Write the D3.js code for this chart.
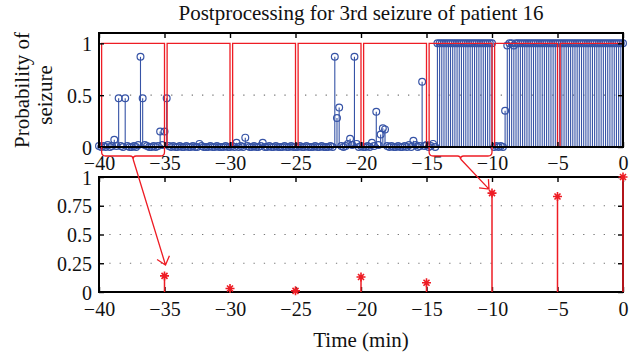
<!DOCTYPE html>
<html><head><meta charset="utf-8">
<script src="https://cdn.jsdelivr.net/npm/d3@7"></script>
<style>body{margin:0;background:#fff}svg{display:block}</style>
</head><body>
<svg id="c" width="643" height="358"></svg>
<script>
// ---- data ----
const titleText = "Postprocessing for 3rd seizure of patient 16";
const xLabel = "Time (min)";
const yLabelLines = ["Probability of", "seizure"];
const sampleStepMin = 1/6; // one output every 10 s
const sampleProb = [
0.01,0,0.01,0,0.02,0,0.01,0.07,0.01,0.47,
0.01,0,0.47,0.01,0,0,0.01,0,0.02,0.87,
0.47,0.02,0.01,0,0,0.01,0,0.01,0.15,0.02,
0.15,0.47,0.01,0,0.01,0,0,0.01,0,0,
0.01,0,0,0.01,0,0,0.03,0.01,0,0,
0,0.01,0,0,0.01,0,0,0,0.01,0,
0,0.01,0,0.04,0,0.01,0,0.09,0.01,0,
0,0.01,0,0,0.01,0.04,0,0,0.01,0,
0,0.01,0,0,0,0.01,0,0,0.01,0,
0,0,0.01,0,0,0.01,0,0,0,0.01,
0,0,0.01,0,0,0,0.01,0,0.87,0.28,
0.38,0.01,0,0.01,0.03,0.08,0.02,0.87,0.03,0,
0.01,0,0,0.01,0,0.04,0.01,0.34,0.02,0.12,
0.18,0.17,0.01,0,0.01,0,0,0.01,0,0,
0.01,0,0.02,0,0.06,0.02,0,0.01,0.63,0.01,
0.02,0,0.01,0.03,0,1,1,1,1,1,
1,1,1,1,1,1,1,1,1,1,
1,1,1,1,1,1,1,1,1,1,
1,0,0.01,0,0.01,0,0.35,0.98,1,1,
0.98,1,1,1,1,1,1,1,1,1,
1,1,1,1,1,1,1,1,1,1,
1,1,1,1,1,1,1,1,1,1,
1,1,1,1,1,1,1,1,1,1,
1,1,1,1,1,1,1,1,1,1,
1
];
const windowStart = [-40,-35,-30,-25,-20,-15,-10,-5];
const windowEnd   = [-35,-30,-25,-20,-15,-10,-5,0];
const windowProb  = [0.14,0.03,0.01,0.13,0.08,0.86,0.83,1.0];
const braceWindows = [0,5];
const braceTipValue = [0.235,0.895];
const xTicks = [-40,-35,-30,-25,-20,-15,-10,-5,0];
const topYTicks = [0,0.5,1];
const botYTicks = [0,0.25,0.5,0.75,1];

// ---- layout ----
const svg = d3.select("#c");
const FONT = "'Liberation Serif','Times New Roman',serif";
const RED = "#ee1c24", BLUE = "#3653a6";
const L = 99, R = 623;
const x = d3.scaleLinear().domain([-40,0]).range([L,R]);
const yT = d3.scaleLinear().domain([0,1.1]).range([147,33]);
const yB = d3.scaleLinear().domain([0,1]).range([292,177]);
const fmt = d => d < 0 ? "\u2212" + Math.abs(d) : String(d);

function grid(g, y, vals){
  g.selectAll(null).data(vals).join("line")
    .attr("x1",L).attr("x2",R).attr("y1",d=>y(d)).attr("y2",d=>y(d))
    .attr("stroke","#777").attr("stroke-width",1.2).attr("stroke-dasharray","1.3,9");
}
function frame(g, y, yTicks, tickLabelsX){
  const y0 = y.range()[0], y1 = y.range()[1];
  const ax = (axis, tr) => {
    const a = g.append("g").attr("transform",tr).call(axis);
    a.select(".domain").remove();
    a.selectAll(".tick line").attr("stroke","#000").attr("stroke-width",1.4);
    a.selectAll("text").attr("font-family",FONT).attr("font-size",20).attr("fill","#111");
    return a;
  };
  const b = ax(d3.axisBottom(x).tickValues(xTicks).tickFormat(fmt).tickSizeInner(-5).tickSizeOuter(0).tickPadding(0), `translate(0,${y0})`);
  b.selectAll("text").attr("y", tickLabelsX).attr("dy",0);
  ax(d3.axisTop(x).tickValues(xTicks).tickFormat("").tickSizeInner(-5).tickSizeOuter(0), `translate(0,${y1})`);
  const l = ax(d3.axisLeft(y).tickValues(yTicks).tickFormat(fmt).tickSizeInner(-5).tickSizeOuter(0).tickPadding(0), `translate(${L},0)`);
  l.selectAll("text").attr("x",-7).attr("dy","0.35em");
  ax(d3.axisRight(y).tickValues(yTicks).tickFormat("").tickSizeInner(-5).tickSizeOuter(0), `translate(${R},0)`);
  g.append("rect").attr("x",L).attr("y",y1).attr("width",R-L).attr("height",y0-y1)
    .attr("fill","none").attr("stroke","#000").attr("stroke-width",2);
}

// ---- top panel ----
const gT = svg.append("g");
grid(gT, yT, [0.5]);
const samples = sampleProb.map((p,i)=>({t:-40 + i*sampleStepMin, p}));
gT.selectAll(null).data(samples).join("line")
  .attr("x1",d=>x(d.t)).attr("x2",d=>x(d.t)).attr("y1",yT(0)).attr("y2",d=>yT(d.p))
  .attr("stroke",BLUE).attr("stroke-width",1.1);
gT.selectAll(null).data(samples).join("circle")
  .attr("cx",d=>x(d.t)).attr("cy",d=>yT(d.p)).attr("r",3.4)
  .attr("fill","none").attr("stroke",BLUE).attr("stroke-width",1.2);
gT.selectAll(null).data(windowStart).join("path")
  .attr("d",(s,i)=>`M${x(s+0.2)},${yT(0)}V${yT(1)}H${x(windowEnd[i])}V${yT(0)}`)
  .attr("fill","none").attr("stroke",RED).attr("stroke-width",1.3);
frame(gT, yT, topYTicks, 23);

// ---- bottom panel ----
const gB = svg.append("g");
grid(gB, yB, [0.25,0.5,0.75]);
frame(gB, yB, botYTicks, 24);
gB.selectAll(null).data(windowEnd).join("line")
  .attr("x1",d=>x(d)).attr("x2",d=>x(d)).attr("y1",yB(0)).attr("y2",(d,i)=>yB(windowProb[i]))
  .attr("stroke",RED).attr("stroke-width",1.5);
const star = "M-4.5,0H4.5M0,-4.5V4.5M-3,-3L3,3M-3,3L3,-3";
gB.selectAll(null).data(windowEnd).join("path")
  .attr("transform",(d,i)=>`translate(${x(d)},${yB(windowProb[i])})`)
  .attr("d",star).attr("stroke",RED).attr("stroke-width",1.6).attr("fill","none");

// ---- braces and arrows ----
const gA = svg.append("g").attr("fill","none").attr("stroke",RED).attr("stroke-width",1.3);
braceWindows.forEach((w,k)=>{
  const xl = x(windowStart[w]+0.2), xr = x(windowEnd[w]), xm = (xl+xr)/2, y0 = yT(0);
  gA.append("path").attr("d",
    `M${xl},${y0}V${y0+5}Q${xl},${y0+9} ${xl+4},${y0+9}H${xm-3}Q${xm},${y0+9} ${xm},${y0+12}`+
    `Q${xm},${y0+9} ${xm+3},${y0+9}H${xr-4}Q${xr},${y0+9} ${xr},${y0+5}V${y0}`);
  const tx = x(windowEnd[w]) + (k===0 ? 1 : -3), ty = yB(braceTipValue[k]);
  const sx = xm, sy = y0+12;
  const ang = Math.atan2(sy-ty, sx-tx), len = 10, spread = 0.7;
  gA.append("path").attr("d",
    `M${sx},${sy}L${tx},${ty}M${tx+len*Math.cos(ang+spread)},${ty+len*Math.sin(ang+spread)}L${tx},${ty}L${tx+len*Math.cos(ang-spread)},${ty+len*Math.sin(ang-spread)}`);
});

// ---- texts ----
svg.append("text").attr("x",(L+R)/2).attr("y",20).attr("text-anchor","middle")
  .attr("font-family",FONT).attr("font-size",21).attr("fill","#111").text(titleText);
svg.append("text").attr("x",(L+R)/2).attr("y",347).attr("text-anchor","middle")
  .attr("font-family",FONT).attr("font-size",21).attr("fill","#111").text(xLabel);
const ylab = [[29,90],[52,95]];
yLabelLines.forEach((s,i)=>{
  svg.append("text").attr("transform",`translate(${ylab[i][0]},${ylab[i][1]}) rotate(-90)`)
    .attr("text-anchor","middle").attr("font-family",FONT).attr("font-size",21).attr("fill","#111").text(s);
});
</script>
</body></html>
